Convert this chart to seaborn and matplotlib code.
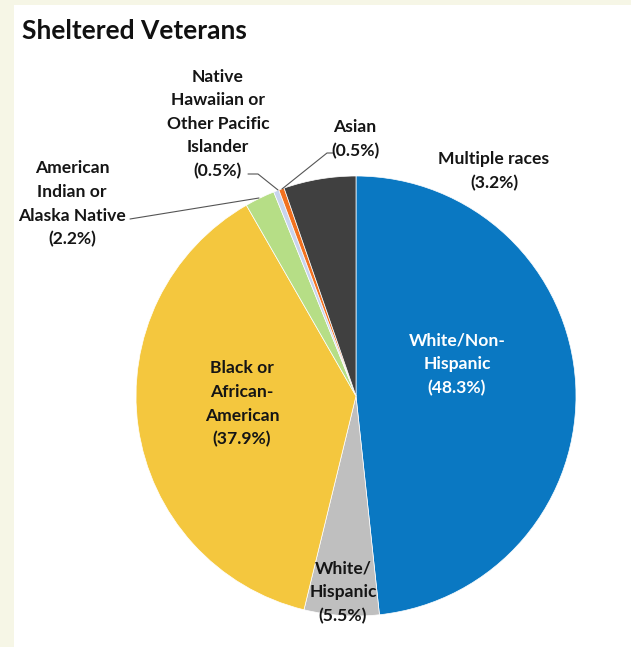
import matplotlib
matplotlib.use("Agg")
import matplotlib.pyplot as plt
import seaborn as sns
from matplotlib.patches import Rectangle

sns.set_theme(style="white")
plt.rcParams['font.family'] = ['Lato', 'DejaVu Sans']

categories = ["White/Non-Hispanic", "White/Hispanic", "Black or African-American",
              "American Indian or Alaska Native", "Native Hawaiian or Other Pacific Islander",
              "Asian", "Multiple races"]
# percentages printed in the labels
label_pct = [48.3, 5.5, 37.9, 2.2, 0.5, 0.5, 3.2]
# slice sizes as drawn in the picture (the dark slice is visibly larger than 3.2%)
slice_values = [48.3, 5.5, 37.9, 2.2, 0.4, 0.4, 5.3]
label_names = ["White/Non-\nHispanic", "White/\nHispanic",
               "Black or\nAfrican-\nAmerican",
               "American\nIndian or\nAlaska Native",
               "Native\nHawaiian or\nOther Pacific\nIslander",
               "Asian", "Multiple races"]
colors = ["#0a78c2", "#bfbfbf", "#f4c73e", "#b6de86", "#c8d4ee", "#f2711f", "#404040"]

W, H = 631, 647
fig = plt.figure(figsize=(W / 100, H / 100), dpi=100)
fig.patch.set_facecolor("#f6f6e6")
ax = fig.add_axes([0, 0, 1, 1])
ax.add_patch(Rectangle((14, 0), W - 14, H - 5, facecolor="white", edgecolor="none", zorder=0))

def Y(y):
    return H - y

ax.pie(slice_values, colors=colors, startangle=90, counterclock=False,
       center=(356, Y(396)), radius=220, frame=True,
       wedgeprops=dict(edgecolor="white", linewidth=0.5))
ax.set_xlim(0, W)
ax.set_ylim(0, H)
ax.set_aspect("equal")
ax.axis("off")

ax.text(22, Y(31), "Sheltered Veterans", fontsize=19, fontweight="bold",
        ha="left", va="center", color="#111111")

fs = 12.6
ls = 1.58
pos = [(457, 364, "white"), (343, 592, "#151515"), (242, 404, "#151515"),
       (72, 204, "#151515"), (218, 124, "#151515"), (355, 139, "#151515"),
       (494, 171, "#151515")]
for name, pct, (x, y, c) in zip(label_names, label_pct, pos):
    ax.text(x, Y(y), f"{name}\n({pct:.1f}%)", fontsize=fs, fontweight="bold",
            ha="center", va="center", color=c, linespacing=ls)

lc = "#555555"
ax.plot([130, 259], [Y(219), Y(198)], color=lc, lw=0.8)
ax.plot([248, 258, 278], [Y(174), Y(174), Y(190)], color=lc, lw=0.8)
ax.plot([333, 327, 282], [Y(153), Y(153), Y(189)], color=lc, lw=0.8)

fig.savefig("out.png", dpi=100, facecolor=fig.get_facecolor())
